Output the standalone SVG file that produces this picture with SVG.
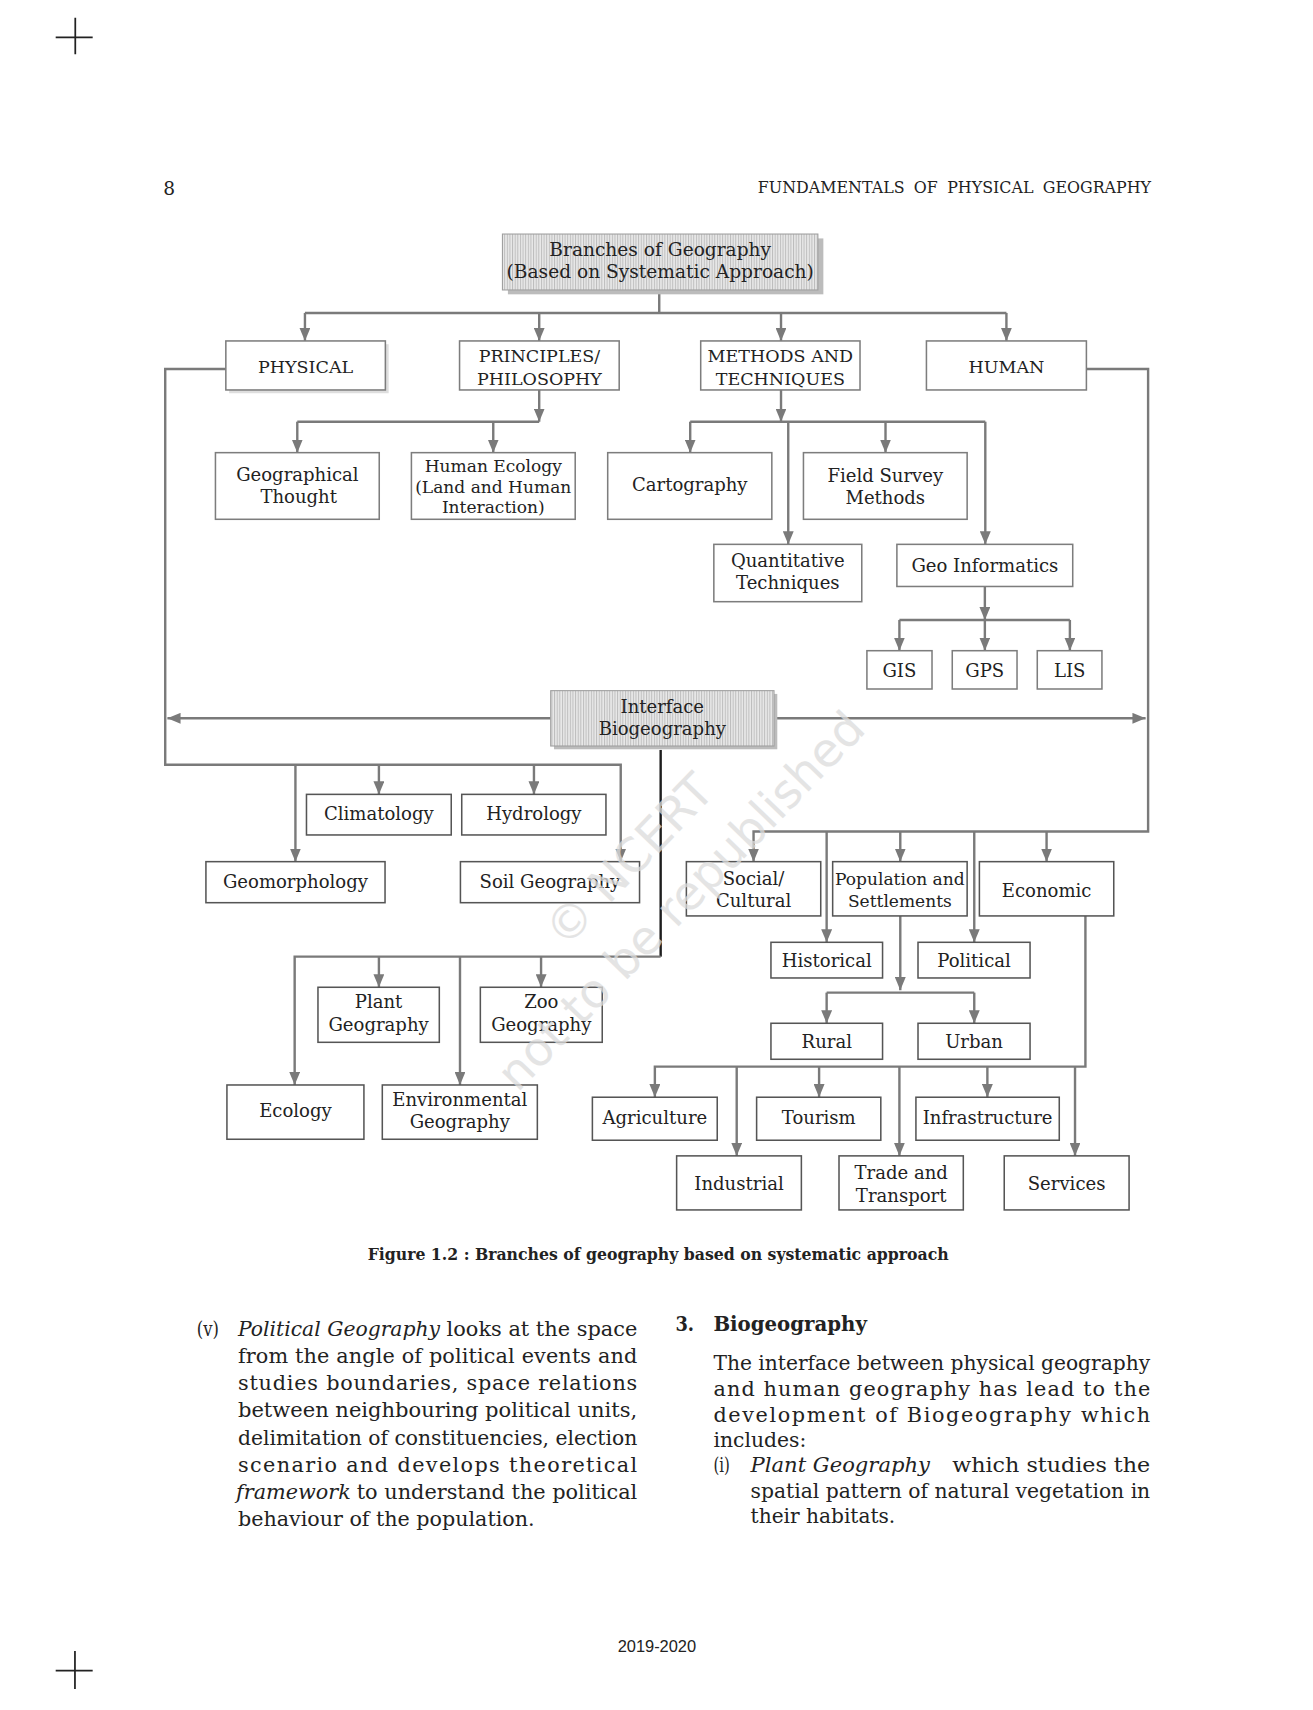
<svg xmlns="http://www.w3.org/2000/svg" width="1313" height="1710" viewBox="0 0 1313 1710">
<defs>
<style>
.bx{fill:#fff;stroke:#7d7d7d;stroke-width:1.4}
.bd{fill:#fff;stroke:#555;stroke-width:1.4}
.ht{fill:url(#hatch);stroke:#a0a0a0;stroke-width:1}
.sh{fill:#bcbcbc}
.sl{fill:#dedede}
.t{font-family:"DejaVu Serif",serif;font-size:16.5px;fill:#222;text-anchor:middle}
.tu{font-family:"DejaVu Serif",serif;font-size:16px;fill:#222;text-anchor:middle}
.c{fill:none;stroke:#7a7a7a;stroke-width:2.2}
.k{fill:none;stroke:#1e1e1e;stroke-width:2.2}
.a{marker-end:url(#ah)}
.p{font-family:"DejaVu Serif",serif;font-size:19px;fill:#222}
.i{font-style:italic}
.b{font-weight:bold}
.wm{font-family:"DejaVu Sans",sans-serif;font-size:43px;fill:#dcdcdc;text-anchor:middle;opacity:0.75}
</style>
<pattern id="hatch" width="2.4" height="6" patternUnits="userSpaceOnUse">
<rect width="2.4" height="6" fill="#e8e8e8"/>
<rect width="0.9" height="6" fill="#bdbdbd"/>
</pattern>
<marker id="ah" markerUnits="userSpaceOnUse" viewBox="0 0 12 10" markerWidth="12" markerHeight="10" refX="12" refY="5" orient="auto">
<path d="M0,0 L12,5 L0,10 z" fill="#7a7a7a"/>
</marker>
</defs>
<rect width="1313" height="1710" fill="#fff"/>
<g transform="scale(1.09417)">

<g id="cropmarks" stroke="#222" stroke-width="1.6">
<path d="M50.9,34.1 H84.7 M68.8,16.2 V49.6"/>
<path d="M50.9,1526.9 H84.7 M68.5,1508.9 V1543.6"/>
</g>

<g id="header">
<text x="149.3" y="178.2" style="font-family:'DejaVu Serif',serif;font-size:17px;fill:#222">8</text>
<text x="692.6" y="176.7" textLength="359.4" lengthAdjust="spacingAndGlyphs" style="font-family:'DejaVu Serif',serif;font-size:15px;fill:#222;word-spacing:4px">FUNDAMENTALS OF PHYSICAL GEOGRAPHY</text>
</g>

<g id="connectors">
<path class="c" d="M602.5,265 V286 M278.7,286 H919.8"/>
<path class="c a" d="M278.7,286 V311.6"/>
<path class="c a" d="M492.8,286 V311.6"/>
<path class="c a" d="M713.8,286 V311.6"/>
<path class="c a" d="M919.8,286 V311.6"/>
<path class="c a" d="M492.8,356.4 V385.4"/>
<path class="c" d="M271.7,385.4 H492.8"/>
<path class="c a" d="M271.7,385.4 V413.7"/>
<path class="c a" d="M450.8,385.4 V413.7"/>
<path class="c a" d="M713.8,356.4 V385.4"/>
<path class="c" d="M630.8,385.4 H900.5"/>
<path class="c a" d="M630.8,385.4 V413.7"/>
<path class="c a" d="M809.3,385.4 V413.7"/>
<path class="c a" d="M720.4,385.4 V497.5"/>
<path class="c a" d="M900.5,385.4 V497.5"/>
<path class="c a" d="M900.1,536 V566.6"/>
<path class="c" d="M822,566.6 H977.8"/>
<path class="c a" d="M822,566.6 V594.7"/>
<path class="c a" d="M900.1,566.6 V594.7"/>
<path class="c a" d="M977.8,566.6 V594.7"/>
<path class="c a" d="M206.4,337.2 H151 V699 H567.3 V787.5"/>
<path class="c a" d="M270,699 V787.5"/>
<path class="c a" d="M346.3,699 V726"/>
<path class="c a" d="M488,699 V726"/>
<path class="c a" d="M503.3,656.5 H153"/>
<path class="c a" d="M707.4,656.5 H1047"/>
<path class="c a" d="M992.9,337.2 H1049.3 V760 H688.7 V787.5"/>
<path class="c a" d="M755.5,760 V861.2"/>
<path class="c a" d="M822.8,760 V787.5"/>
<path class="c a" d="M890.4,760 V861.2"/>
<path class="c a" d="M956.5,760 V787.5"/>
<path class="k" d="M603.8,685.4 V874.3"/>
<path class="c a" d="M603.8,874.3 H269.3 V991.6"/>
<path class="c a" d="M346.3,874.3 V902.3"/>
<path class="c a" d="M420.4,874.3 V991.6"/>
<path class="c a" d="M494.5,874.3 V902.3"/>
<path class="c a" d="M822.8,837.1 V905"/>
<path class="c" d="M755.5,907.2 H890.4"/>
<path class="c a" d="M755.5,907.2 V935.2"/>
<path class="c a" d="M890.4,907.2 V935.2"/>
<path class="c a" d="M992,837.1 V974.8 H598.5 V1002.8"/>
<path class="c a" d="M673.3,974.8 V1056.4"/>
<path class="c a" d="M748.6,974.8 V1002.8"/>
<path class="c a" d="M822,974.8 V1056.4"/>
<path class="c a" d="M902.4,974.8 V1002.8"/>
<path class="c a" d="M982.5,974.8 V1056.4"/>
</g>

<g id="n-root">
<rect class="sh" x="464.2" y="217.9" width="288.3" height="51.1"/>
<rect class="ht" x="459.2" y="213.9" width="288.3" height="51.1"/>
<text class="t" x="603.4" y="234" style="font-size:17px">Branches of Geography</text>
<text class="t" x="603.4" y="254.4" style="font-size:17px">(Based on Systematic Approach)</text>
</g>
<g id="n-physical">
<rect class="sl" x="209.4" y="314.6" width="145.8" height="44.8"/>
<rect class="bx" x="206.4" y="311.6" width="145.8" height="44.8"/>
<text class="tu" x="279.3" y="340.6">PHYSICAL</text>
</g>
<g id="n-principles">
<rect class="bx" x="420" y="311.6" width="145.9" height="44.8"/>
<text class="tu" x="493" y="331.1">PRINCIPLES/</text>
<text class="tu" x="493" y="352">PHILOSOPHY</text>
</g>
<g id="n-methods">
<rect class="bx" x="640.4" y="311.6" width="145.6" height="44.8"/>
<text class="tu" x="713.2" y="331.1">METHODS AND</text>
<text class="tu" x="713.2" y="352">TECHNIQUES</text>
</g>
<g id="n-human">
<rect class="bx" x="846.7" y="311.6" width="146.2" height="44.8"/>
<text class="tu" x="919.8" y="340.6">HUMAN</text>
</g>
<g id="n-geothought">
<rect class="bx" x="196.9" y="413.7" width="149.7" height="60.9"/>
<text class="t" x="271.8" y="439.3">Geographical</text>
<text class="t" x="273" y="459.4">Thought</text>
</g>
<g id="n-humaneco">
<rect class="bx" x="376" y="413.7" width="149.7" height="60.9"/>
<text class="t" x="450.8" y="431.1" style="font-size:15.6px">Human Ecology</text>
<text class="t" x="450.8" y="450.3" style="font-size:15.6px">(Land and Human</text>
<text class="t" x="450.8" y="469.1" style="font-size:15.6px">Interaction)</text>
</g>
<g id="n-carto">
<rect class="bx" x="555.4" y="413.7" width="150" height="60.9"/>
<text class="t" x="630.4" y="448.4">Cartography</text>
</g>
<g id="n-field">
<rect class="bx" x="734.3" y="413.7" width="149.6" height="60.9"/>
<text class="t" x="809.1" y="440.2">Field Survey</text>
<text class="t" x="809.1" y="460.6">Methods</text>
</g>
<g id="n-quant">
<rect class="bx" x="652.4" y="497.5" width="135.2" height="52.4"/>
<text class="t" x="720" y="518.5">Quantitative</text>
<text class="t" x="720" y="538.6">Techniques</text>
</g>
<g id="n-geoinf">
<rect class="bx" x="819.7" y="497.5" width="160.7" height="38.5"/>
<text class="t" x="900.1" y="522.5">Geo Informatics</text>
</g>
<g id="n-gis">
<rect class="bx" x="792.3" y="594.7" width="59.5" height="35"/>
<text class="t" x="822" y="618.4">GIS</text>
</g>
<g id="n-gps">
<rect class="bx" x="870.3" y="594.7" width="59.2" height="35"/>
<text class="t" x="900" y="618.4">GPS</text>
</g>
<g id="n-lis">
<rect class="bx" x="948" y="594.7" width="59.1" height="35"/>
<text class="t" x="977.6" y="618.4">LIS</text>
</g>
<g id="n-interface">
<rect class="sh" x="506.3" y="634.2" width="204.1" height="50.6"/>
<rect class="ht" x="503.3" y="631.2" width="204.1" height="50.6"/>
<text class="t" x="605.3" y="651.3">Interface</text>
<text class="t" x="605.3" y="671.7">Biogeography</text>
</g>
<g id="n-clim">
<rect class="bd" x="280.1" y="726" width="132.3" height="37.1"/>
<text class="t" x="346.2" y="749.4">Climatology</text>
</g>
<g id="n-hydro">
<rect class="bd" x="422" y="726" width="131.8" height="37.1"/>
<text class="t" x="487.9" y="749.4">Hydrology</text>
</g>
<g id="n-geomorph">
<rect class="bd" x="188.2" y="787.5" width="163.7" height="37.5"/>
<text class="t" x="270" y="811.9">Geomorphology</text>
</g>
<g id="n-soil">
<rect class="bd" x="420.8" y="787.5" width="163.7" height="37.5"/>
<text class="t" x="502.6" y="811.9">Soil Geography</text>
</g>
<g id="n-social">
<rect class="bd" x="627.3" y="787.5" width="122.8" height="49.6"/>
<text class="t" x="688.7" y="808.8">Social/</text>
<text class="t" x="688.7" y="829.2">Cultural</text>
</g>
<g id="n-pop">
<rect class="bd" x="761" y="787.5" width="122.9" height="49.6"/>
<text class="t" x="822.4" y="808.8" style="font-size:15.6px">Population and</text>
<text class="t" x="822.4" y="829.2" style="font-size:15.6px">Settlements</text>
</g>
<g id="n-econ">
<rect class="bd" x="895.1" y="787.5" width="122.8" height="49.6"/>
<text class="t" x="956.5" y="819.5">Economic</text>
</g>
<g id="n-hist">
<rect class="bd" x="704.6" y="861.2" width="102" height="32.6"/>
<text class="t" x="755.6" y="883.4">Historical</text>
</g>
<g id="n-pol">
<rect class="bd" x="839" y="861.2" width="102.4" height="32.6"/>
<text class="t" x="890.2" y="883.4">Political</text>
</g>
<g id="n-rural">
<rect class="bd" x="704.6" y="935.2" width="102" height="32.9"/>
<text class="t" x="755.6" y="958">Rural</text>
</g>
<g id="n-urban">
<rect class="bd" x="839" y="935.2" width="102.4" height="32.9"/>
<text class="t" x="890.2" y="958">Urban</text>
</g>
<g id="n-plant">
<rect class="bd" x="290.6" y="902.3" width="110.9" height="50.3"/>
<text class="t" x="346" y="921.5">Plant</text>
<text class="t" x="346" y="942.2">Geography</text>
</g>
<g id="n-zoo">
<rect class="bd" x="439" y="902.3" width="111.4" height="50.3"/>
<text class="t" x="494.7" y="921.5">Zoo</text>
<text class="t" x="494.7" y="942.2">Geography</text>
</g>
<g id="n-ecology">
<rect class="bd" x="207.4" y="991.6" width="125.2" height="49.6"/>
<text class="t" x="270" y="1020.5">Ecology</text>
</g>
<g id="n-env">
<rect class="bd" x="349.4" y="991.6" width="141.7" height="49.6"/>
<text class="t" x="420.2" y="1010.8">Environmental</text>
<text class="t" x="420.2" y="1031.2">Geography</text>
</g>
<g id="n-agri">
<rect class="bd" x="541.4" y="1002.8" width="114.1" height="39.3"/>
<text class="t" x="598.5" y="1027.2">Agriculture</text>
</g>
<g id="n-tourism">
<rect class="bd" x="691.5" y="1002.8" width="113.5" height="39.3"/>
<text class="t" x="748.3" y="1027.2">Tourism</text>
</g>
<g id="n-infra">
<rect class="bd" x="837.1" y="1002.8" width="131" height="39.3"/>
<text class="t" x="902.6" y="1027.2">Infrastructure</text>
</g>
<g id="n-industrial">
<rect class="bd" x="618.4" y="1056.4" width="114" height="49.4"/>
<text class="t" x="675.4" y="1087.6">Industrial</text>
</g>
<g id="n-trade">
<rect class="bd" x="766.8" y="1056.4" width="113.6" height="49.4"/>
<text class="t" x="823.6" y="1077.8">Trade and</text>
<text class="t" x="823.6" y="1098.2">Transport</text>
</g>
<g id="n-services">
<rect class="bd" x="917.8" y="1056.4" width="114.1" height="49.4"/>
<text class="t" x="974.8" y="1087.6">Services</text>
</g>

<g id="watermark">
<text class="wm" transform="translate(575,786) rotate(-46)" y="15">© NCERT</text>
<text class="wm" transform="translate(622,823) rotate(-46)" y="15">not to be republished</text>
</g>

<g id="caption">
<text x="336" y="1152" textLength="531" lengthAdjust="spacingAndGlyphs" style="font-family:'DejaVu Serif',serif;font-weight:bold;font-size:15px;fill:#222">Figure 1.2 : Branches of geography based on systematic approach</text>
</g>

<g id="body-left">
<text class="p" x="179.8" y="1221" textLength="20.2" lengthAdjust="spacingAndGlyphs">(v)</text>
<text class="p i" x="217.5" y="1221" textLength="184.7" lengthAdjust="spacingAndGlyphs">Political Geography</text>
<text class="p" x="408.2" y="1221" textLength="174.2" lengthAdjust="spacingAndGlyphs">looks at the space</text>
<text class="p" x="217.5" y="1245.6" textLength="364.9">from the angle of political events and</text>
<text class="p" x="217.5" y="1270.5" textLength="364.9">studies boundaries, space relations</text>
<text class="p" x="217.5" y="1295" textLength="364.9" lengthAdjust="spacingAndGlyphs">between neighbouring political units,</text>
<text class="p" x="217.5" y="1320.7" textLength="364.9" lengthAdjust="spacingAndGlyphs">delimitation of constituencies, election</text>
<text class="p" x="217.5" y="1345" textLength="364.9">scenario and develops theoretical</text>
<text class="p i" x="215.8" y="1370.4" textLength="104.9" lengthAdjust="spacingAndGlyphs">framework</text>
<text class="p" x="326" y="1370.4" textLength="256.4" lengthAdjust="spacingAndGlyphs">to understand the political</text>
<text class="p" x="217.5" y="1394.8" textLength="271.1" lengthAdjust="spacingAndGlyphs">behaviour of the population.</text>
</g>

<g id="body-right">
<text class="p b" x="617.3" y="1216.5" textLength="17" lengthAdjust="spacingAndGlyphs">3.</text>
<text class="p b" x="652" y="1216.5" textLength="140.3" lengthAdjust="spacingAndGlyphs">Biogeography</text>
<text class="p" x="652" y="1252" textLength="399.2" lengthAdjust="spacingAndGlyphs">The interface between physical geography</text>
<text class="p" x="652" y="1275.5" textLength="399.2">and human geography has lead to the</text>
<text class="p" x="652" y="1299.3" textLength="399.2">development of Biogeography which</text>
<text class="p" x="652" y="1322.1" textLength="85" lengthAdjust="spacingAndGlyphs">includes:</text>
<text class="p" x="652" y="1345" textLength="15" lengthAdjust="spacingAndGlyphs">(i)</text>
<text class="p i" x="686" y="1345" textLength="163.9" lengthAdjust="spacingAndGlyphs">Plant Geography</text>
<text class="p" x="870.3" y="1345" textLength="180.9" lengthAdjust="spacingAndGlyphs">which studies the</text>
<text class="p" x="686" y="1368.7" textLength="365.2" lengthAdjust="spacingAndGlyphs">spatial pattern of natural vegetation in</text>
<text class="p" x="686" y="1392.2" textLength="132.2" lengthAdjust="spacingAndGlyphs">their habitats.</text>
</g>

<g id="footer">
<text x="564.5" y="1509.5" textLength="71.7" lengthAdjust="spacingAndGlyphs" style="font-family:'Liberation Sans',Arial,sans-serif;font-size:15.5px;fill:#222">2019-2020</text>
</g>
</g>
</svg>
